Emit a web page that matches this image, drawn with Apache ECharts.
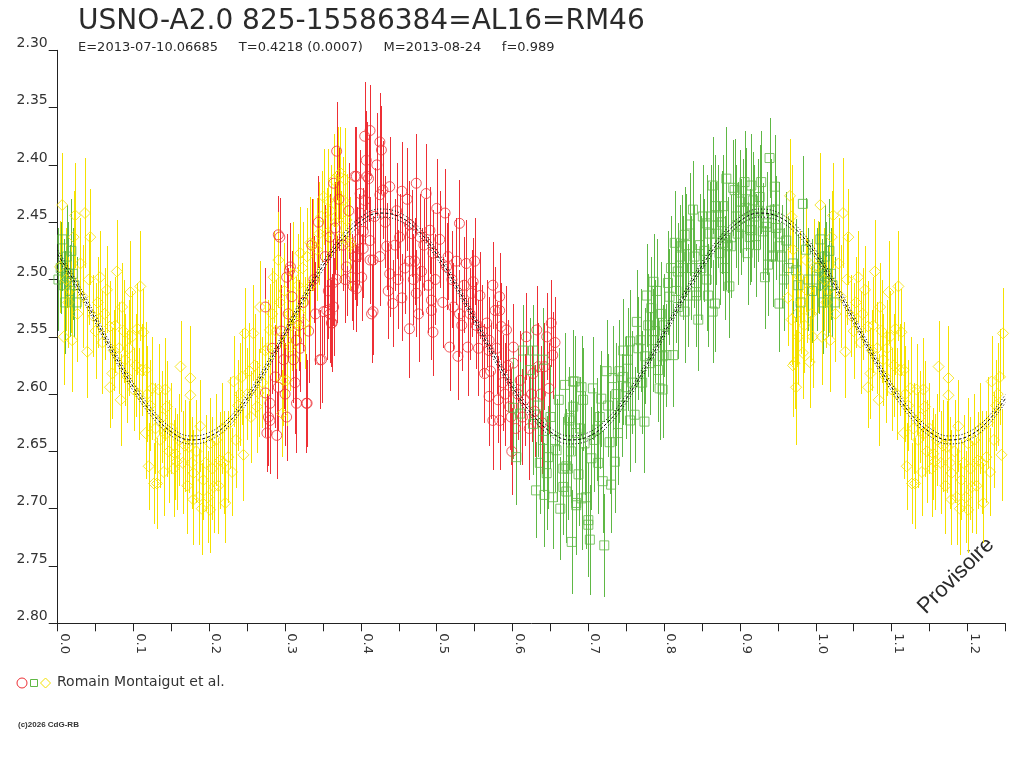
<!DOCTYPE html>
<html lang="fr">

<head>
	<meta charset="UTF-8">
	<title>USNO-A2.0 825-15586384</title>
	<script src="https://cdn.jsdelivr.net/npm/echarts@6.0.0/dist/echarts.min.js"></script>
	<style>
		html, body { margin: 0; padding: 0; background: #fff; }
		#chart { width: 1024px; height: 768px; }
	</style>
</head>

<body>
	<div id="chart"></div>
	<script>
		// observations : [phase, magnitude, erreur]
		var redObs = [
			[0.274, 2.524, 0.034], [0.274, 2.599, 0.038], [0.276, 2.634, 0.034], [0.278, 2.620, 0.043], [0.280, 2.608, 0.038],
			[0.280, 2.623, 0.047], [0.289, 2.636, 0.038], [0.291, 2.461, 0.034], [0.291, 2.594, 0.038], [0.293, 2.463, 0.034],
			[0.298, 2.570, 0.043], [0.302, 2.620, 0.038], [0.302, 2.498, 0.038], [0.306, 2.492, 0.034], [0.307, 2.489, 0.038],
			[0.311, 2.570, 0.038], [0.315, 2.553, 0.038], [0.315, 2.608, 0.043], [0.320, 2.560, 0.038], [0.328, 2.608, 0.043],
			[0.329, 2.608, 0.038], [0.338, 2.500, 0.038], [0.346, 2.570, 0.043], [0.348, 2.570, 0.038], [0.351, 2.528, 0.038],
			[0.355, 2.527, 0.043], [0.359, 2.463, 0.038], [0.359, 2.530, 0.043], [0.361, 2.538, 0.038], [0.362, 2.538, 0.043],
			[0.363, 2.503, 0.038], [0.364, 2.416, 0.038], [0.364, 2.524, 0.043], [0.368, 2.388, 0.043], [0.368, 2.500, 0.038],
			[0.379, 2.500, 0.038], [0.381, 2.489, 0.043], [0.388, 2.498, 0.038], [0.390, 2.506, 0.038], [0.392, 2.410, 0.043],
			[0.392, 2.480, 0.038], [0.394, 2.410, 0.043], [0.394, 2.508, 0.038], [0.395, 2.480, 0.043], [0.399, 2.425, 0.038],
			[0.399, 2.442, 0.043], [0.401, 2.498, 0.038], [0.403, 2.458, 0.038], [0.403, 2.473, 0.043], [0.405, 2.375, 0.047],
			[0.405, 2.431, 0.038], [0.407, 2.396, 0.043], [0.408, 2.410, 0.047], [0.410, 2.412, 0.038], [0.412, 2.370, 0.040],
			[0.412, 2.466, 0.038], [0.412, 2.483, 0.038], [0.414, 2.530, 0.043], [0.416, 2.483, 0.038], [0.416, 2.528, 0.038],
			[0.425, 2.380, 0.043], [0.425, 2.426, 0.038], [0.425, 2.480, 0.043], [0.427, 2.387, 0.038], [0.429, 2.422, 0.043],
			[0.434, 2.471, 0.038], [0.438, 2.419, 0.043], [0.438, 2.495, 0.038], [0.442, 2.521, 0.038], [0.449, 2.500, 0.043],
			[0.451, 2.463, 0.038], [0.454, 2.423, 0.043], [0.454, 2.516, 0.038], [0.464, 2.452, 0.038], [0.464, 2.484, 0.038],
			[0.464, 2.543, 0.043], [0.467, 2.460, 0.038], [0.471, 2.484, 0.038], [0.473, 2.416, 0.043], [0.473, 2.512, 0.038],
			[0.478, 2.463, 0.038], [0.480, 2.493, 0.038], [0.486, 2.425, 0.043], [0.491, 2.457, 0.038], [0.493, 2.518, 0.038],
			[0.493, 2.527, 0.043], [0.495, 2.477, 0.038], [0.495, 2.546, 0.038], [0.500, 2.438, 0.043], [0.511, 2.442, 0.038],
			[0.513, 2.489, 0.038], [0.515, 2.480, 0.038], [0.517, 2.559, 0.038], [0.522, 2.524, 0.038], [0.526, 2.484, 0.038],
			[0.528, 2.567, 0.038], [0.530, 2.451, 0.038], [0.530, 2.530, 0.038], [0.539, 2.486, 0.038], [0.541, 2.559, 0.043],
			[0.546, 2.512, 0.038], [0.548, 2.502, 0.038], [0.550, 2.484, 0.038], [0.552, 2.540, 0.038], [0.557, 2.514, 0.038],
			[0.563, 2.582, 0.043], [0.566, 2.538, 0.038], [0.569, 2.553, 0.038], [0.569, 2.562, 0.043], [0.569, 2.602, 0.043],
			[0.574, 2.505, 0.038], [0.574, 2.623, 0.043], [0.577, 2.527, 0.038], [0.581, 2.605, 0.038], [0.583, 2.515, 0.038],
			[0.583, 2.527, 0.043], [0.583, 2.623, 0.043], [0.585, 2.541, 0.038], [0.592, 2.544, 0.038], [0.596, 2.611, 0.038],
			[0.599, 2.650, 0.038], [0.601, 2.559, 0.038], [0.601, 2.573, 0.038], [0.610, 2.588, 0.043], [0.618, 2.550, 0.038],
			[0.627, 2.582, 0.043], [0.632, 2.544, 0.038], [0.634, 2.576, 0.038], [0.642, 2.576, 0.038], [0.645, 2.550, 0.038],
			[0.651, 2.538, 0.038], [0.653, 2.566, 0.038],
			[0.283, 2.560, 0.040], [0.287, 2.585, 0.045], [0.295, 2.545, 0.040], [0.300, 2.600, 0.045], [0.304, 2.530, 0.040],
			[0.309, 2.515, 0.040], [0.313, 2.590, 0.045], [0.318, 2.540, 0.040], [0.324, 2.520, 0.042], [0.331, 2.545, 0.045],
			[0.335, 2.470, 0.040], [0.340, 2.530, 0.045], [0.344, 2.450, 0.040], [0.353, 2.480, 0.045], [0.357, 2.510, 0.042],
			[0.366, 2.455, 0.040], [0.371, 2.430, 0.045], [0.376, 2.470, 0.040], [0.384, 2.440, 0.042], [0.397, 2.465, 0.040],
			[0.418, 2.445, 0.042], [0.421, 2.400, 0.045], [0.432, 2.450, 0.040], [0.436, 2.510, 0.042], [0.445, 2.470, 0.040],
			[0.447, 2.440, 0.042], [0.458, 2.490, 0.040], [0.461, 2.430, 0.045], [0.469, 2.500, 0.040], [0.476, 2.530, 0.042],
			[0.483, 2.470, 0.040], [0.489, 2.505, 0.042], [0.498, 2.500, 0.040], [0.504, 2.465, 0.042], [0.508, 2.520, 0.040],
			[0.520, 2.500, 0.042], [0.533, 2.540, 0.040], [0.536, 2.505, 0.042], [0.544, 2.530, 0.040], [0.555, 2.560, 0.042],
			[0.560, 2.545, 0.040], [0.571, 2.580, 0.042], [0.579, 2.560, 0.040], [0.587, 2.590, 0.042], [0.590, 2.600, 0.045],
			[0.594, 2.575, 0.040], [0.598, 2.620, 0.042], [0.604, 2.630, 0.045], [0.607, 2.600, 0.040], [0.613, 2.620, 0.042],
			[0.616, 2.605, 0.040], [0.622, 2.630, 0.045], [0.625, 2.600, 0.042], [0.629, 2.615, 0.040], [0.637, 2.600, 0.042],
			[0.639, 2.625, 0.045], [0.648, 2.595, 0.040], [0.656, 2.555, 0.040]
		]
		var greenObs = [
			[0.004, 2.490, 0.040], [0.006, 2.465, 0.045], [0.008, 2.505, 0.040], [0.012, 2.480, 0.045], [0.016, 2.510, 0.040],
			[0.018, 2.475, 0.045], [0.020, 2.495, 0.040], [0.025, 2.520, 0.040], [0.001, 2.500, 0.045], [0.010, 2.520, 0.045],
			[0.014, 2.495, 0.045], [0.022, 2.505, 0.045],
			[0.601, 2.612, 0.045], [0.605, 2.655, 0.042], [0.610, 2.617, 0.045], [0.614, 2.562, 0.040], [0.623, 2.579, 0.045],
			[0.627, 2.562, 0.040], [0.627, 2.626, 0.045], [0.631, 2.684, 0.042], [0.640, 2.570, 0.045], [0.640, 2.640, 0.045],
			[0.642, 2.688, 0.045], [0.645, 2.669, 0.050], [0.647, 2.655, 0.045], [0.658, 2.649, 0.045], [0.667, 2.665, 0.045],
			[0.667, 2.681, 0.042], [0.669, 2.592, 0.045], [0.671, 2.663, 0.050], [0.671, 2.685, 0.045], [0.673, 2.665, 0.045],
			[0.675, 2.621, 0.045], [0.675, 2.623, 0.040], [0.678, 2.729, 0.045], [0.680, 2.589, 0.045], [0.680, 2.611, 0.042],
			[0.682, 2.589, 0.040], [0.684, 2.634, 0.045], [0.684, 2.695, 0.045], [0.684, 2.697, 0.040], [0.691, 2.594, 0.045],
			[0.691, 2.691, 0.045], [0.693, 2.605, 0.045], [0.695, 2.643, 0.045], [0.700, 2.710, 0.050], [0.700, 2.714, 0.045],
			[0.702, 2.727, 0.048], [0.704, 2.656, 0.045], [0.706, 2.595, 0.045], [0.711, 2.631, 0.045], [0.717, 2.604, 0.042],
			[0.719, 2.676, 0.045], [0.721, 2.732, 0.045], [0.724, 2.580, 0.045], [0.728, 2.642, 0.045], [0.730, 2.679, 0.042],
			[0.732, 2.586, 0.045], [0.735, 2.659, 0.045], [0.739, 2.634, 0.045], [0.746, 2.562, 0.045], [0.746, 2.585, 0.042],
			[0.750, 2.594, 0.045], [0.755, 2.554, 0.045], [0.755, 2.623, 0.045], [0.761, 2.618, 0.042], [0.764, 2.537, 0.045],
			[0.769, 2.553, 0.045], [0.774, 2.624, 0.045], [0.775, 2.567, 0.042], [0.777, 2.514, 0.045], [0.781, 2.573, 0.045],
			[0.785, 2.553, 0.045], [0.786, 2.502, 0.042], [0.792, 2.579, 0.045], [0.794, 2.595, 0.045], [0.796, 2.530, 0.045],
			[0.798, 2.596, 0.042], [0.798, 2.567, 0.045], [0.803, 2.566, 0.045], [0.805, 2.503, 0.045], [0.807, 2.515, 0.042],
			[0.812, 2.566, 0.045], [0.814, 2.468, 0.045], [0.818, 2.493, 0.042], [0.818, 2.524, 0.045], [0.821, 2.480, 0.045],
			[0.823, 2.471, 0.045], [0.827, 2.461, 0.042], [0.827, 2.528, 0.045], [0.831, 2.514, 0.045], [0.834, 2.452, 0.045],
			[0.838, 2.439, 0.042], [0.840, 2.480, 0.045], [0.842, 2.514, 0.045], [0.842, 2.511, 0.042], [0.845, 2.535, 0.045],
			[0.851, 2.445, 0.045], [0.856, 2.451, 0.042], [0.856, 2.500, 0.045], [0.858, 2.514, 0.045], [0.860, 2.460, 0.045],
			[0.864, 2.418, 0.042], [0.864, 2.528, 0.045], [0.867, 2.436, 0.045], [0.867, 2.521, 0.042], [0.873, 2.477, 0.045],
			[0.878, 2.436, 0.045], [0.878, 2.468, 0.042], [0.882, 2.412, 0.045], [0.882, 2.464, 0.045], [0.884, 2.470, 0.042],
			[0.886, 2.506, 0.045], [0.888, 2.471, 0.045], [0.891, 2.420, 0.042], [0.893, 2.422, 0.045], [0.900, 2.432, 0.045],
			[0.902, 2.454, 0.042], [0.906, 2.415, 0.045], [0.910, 2.477, 0.045], [0.913, 2.463, 0.042], [0.915, 2.418, 0.045],
			[0.915, 2.457, 0.045], [0.917, 2.431, 0.042], [0.926, 2.428, 0.045], [0.928, 2.415, 0.045], [0.930, 2.458, 0.042],
			[0.933, 2.498, 0.045], [0.935, 2.451, 0.045], [0.935, 2.454, 0.042], [0.937, 2.487, 0.045], [0.939, 2.394, 0.035],
			[0.943, 2.479, 0.045], [0.943, 2.480, 0.042], [0.946, 2.419, 0.045], [0.946, 2.439, 0.045], [0.952, 2.521, 0.042],
			[0.952, 2.471, 0.045], [0.952, 2.460, 0.045], [0.961, 2.466, 0.042], [0.970, 2.486, 0.045], [0.974, 2.492, 0.045],
			[0.983, 2.434, 0.042], [0.987, 2.474, 0.045],
			[0.633, 2.610, 0.045], [0.636, 2.660, 0.045],
			[0.650, 2.620, 0.045], [0.653, 2.690, 0.045], [0.656, 2.640, 0.045], [0.661, 2.605, 0.045], [0.663, 2.700, 0.045],
			[0.677, 2.650, 0.045], [0.687, 2.670, 0.045], [0.689, 2.630, 0.045], [0.697, 2.690, 0.045], [0.708, 2.640, 0.045],
			[0.713, 2.660, 0.045], [0.715, 2.620, 0.045], [0.726, 2.610, 0.045], [0.737, 2.600, 0.045], [0.741, 2.580, 0.045],
			[0.744, 2.610, 0.045], [0.752, 2.570, 0.045], [0.758, 2.590, 0.045], [0.766, 2.560, 0.045], [0.771, 2.590, 0.045],
			[0.779, 2.540, 0.045], [0.783, 2.525, 0.045], [0.788, 2.545, 0.045], [0.790, 2.510, 0.045], [0.800, 2.540, 0.045],
			[0.809, 2.490, 0.045], [0.816, 2.510, 0.045], [0.825, 2.490, 0.045], [0.829, 2.470, 0.045], [0.836, 2.490, 0.045],
			[0.847, 2.470, 0.045], [0.849, 2.490, 0.045], [0.853, 2.475, 0.045], [0.862, 2.445, 0.045], [0.869, 2.460, 0.045],
			[0.871, 2.445, 0.045], [0.876, 2.450, 0.045], [0.880, 2.490, 0.045], [0.895, 2.445, 0.045], [0.897, 2.460, 0.045],
			[0.904, 2.440, 0.045], [0.908, 2.430, 0.045], [0.919, 2.445, 0.045], [0.921, 2.470, 0.045], [0.924, 2.440, 0.045],
			[0.941, 2.440, 0.045], [0.948, 2.455, 0.045], [0.955, 2.480, 0.045], [0.958, 2.500, 0.045], [0.964, 2.490, 0.045],
			[0.977, 2.505, 0.045], [0.980, 2.520, 0.045], [0.990, 2.500, 0.045], [0.995, 2.510, 0.045]
		]
		var yellowObs = [
			[0.003, 2.489, 0.040], [0.006, 2.435, 0.045], [0.008, 2.550, 0.042], [0.017, 2.509, 0.038], [0.019, 2.553, 0.045],
			[0.021, 2.463, 0.040], [0.023, 2.444, 0.046], [0.030, 2.486, 0.040], [0.036, 2.442, 0.048], [0.039, 2.563, 0.040],
			[0.043, 2.463, 0.042], [0.047, 2.532, 0.036], [0.056, 2.498, 0.040], [0.065, 2.509, 0.038], [0.069, 2.541, 0.040],
			[0.069, 2.594, 0.036], [0.072, 2.582, 0.040], [0.074, 2.562, 0.035], [0.078, 2.493, 0.045], [0.083, 2.605, 0.040],
			[0.085, 2.524, 0.038], [0.089, 2.570, 0.040], [0.096, 2.511, 0.045], [0.100, 2.596, 0.036], [0.105, 2.543, 0.040],
			[0.109, 2.506, 0.048], [0.111, 2.579, 0.040], [0.113, 2.546, 0.038], [0.116, 2.579, 0.042], [0.116, 2.634, 0.040],
			[0.120, 2.663, 0.038], [0.127, 2.678, 0.035], [0.131, 2.678, 0.040], [0.133, 2.596, 0.040], [0.140, 2.668, 0.038],
			[0.142, 2.596, 0.045], [0.144, 2.611, 0.040], [0.144, 2.634, 0.038], [0.155, 2.652, 0.040], [0.157, 2.659, 0.042],
			[0.162, 2.576, 0.040], [0.173, 2.646, 0.040], [0.175, 2.586, 0.045], [0.175, 2.601, 0.040], [0.179, 2.669, 0.038],
			[0.179, 2.692, 0.040], [0.186, 2.690, 0.042], [0.188, 2.628, 0.040], [0.192, 2.675, 0.035], [0.201, 2.643, 0.040],
			[0.201, 2.701, 0.038], [0.206, 2.681, 0.040], [0.214, 2.658, 0.042], [0.221, 2.695, 0.035], [0.225, 2.655, 0.040],
			[0.230, 2.668, 0.038], [0.232, 2.589, 0.040], [0.243, 2.585, 0.042], [0.245, 2.653, 0.040], [0.247, 2.547, 0.040],
			[0.258, 2.547, 0.042], [0.263, 2.611, 0.040], [0.265, 2.599, 0.038], [0.267, 2.524, 0.040], [0.274, 2.562, 0.045],
			[0.280, 2.544, 0.040], [0.285, 2.498, 0.040], [0.291, 2.483, 0.042], [0.296, 2.617, 0.038], [0.297, 2.588, 0.040],
			[0.302, 2.588, 0.040], [0.302, 2.553, 0.042], [0.306, 2.530, 0.040], [0.307, 2.559, 0.038], [0.311, 2.495, 0.045],
			[0.315, 2.538, 0.040], [0.320, 2.530, 0.042], [0.320, 2.477, 0.040], [0.326, 2.538, 0.040], [0.333, 2.506, 0.042],
			[0.333, 2.468, 0.040], [0.342, 2.474, 0.045], [0.348, 2.445, 0.040], [0.351, 2.428, 0.042], [0.355, 2.460, 0.040],
			[0.357, 2.431, 0.045], [0.364, 2.413, 0.040], [0.370, 2.409, 0.042], [0.373, 2.407, 0.040], [0.374, 2.463, 0.040],
			[0.377, 2.431, 0.038], [0.379, 2.413, 0.045], [0.381, 2.448, 0.040], [0.385, 2.471, 0.038], [0.386, 2.468, 0.040],
			[0.011, 2.500, 0.045], [0.014, 2.520, 0.040], [0.026, 2.530, 0.042], [0.033, 2.515, 0.045], [0.041, 2.500, 0.040],
			[0.050, 2.545, 0.042], [0.053, 2.520, 0.040], [0.059, 2.555, 0.045], [0.062, 2.530, 0.040], [0.076, 2.540, 0.042],
			[0.081, 2.560, 0.040], [0.087, 2.545, 0.045], [0.092, 2.585, 0.040], [0.094, 2.560, 0.042], [0.098, 2.550, 0.040],
			[0.103, 2.575, 0.045], [0.107, 2.600, 0.040], [0.118, 2.600, 0.042], [0.122, 2.610, 0.040], [0.125, 2.595, 0.045],
			[0.129, 2.630, 0.040], [0.135, 2.640, 0.042], [0.138, 2.620, 0.040], [0.147, 2.650, 0.045], [0.150, 2.630, 0.040],
			[0.153, 2.665, 0.042], [0.160, 2.640, 0.040], [0.165, 2.660, 0.045], [0.168, 2.645, 0.040], [0.171, 2.680, 0.042],
			[0.177, 2.660, 0.040], [0.183, 2.650, 0.045], [0.190, 2.700, 0.040], [0.195, 2.660, 0.042], [0.198, 2.690, 0.040],
			[0.204, 2.665, 0.045], [0.209, 2.640, 0.040], [0.212, 2.680, 0.042], [0.217, 2.630, 0.040], [0.219, 2.660, 0.045],
			[0.227, 2.625, 0.040], [0.235, 2.640, 0.042], [0.238, 2.610, 0.040], [0.240, 2.600, 0.045], [0.250, 2.600, 0.040],
			[0.253, 2.580, 0.042], [0.255, 2.620, 0.040], [0.260, 2.575, 0.045], [0.270, 2.590, 0.040], [0.277, 2.560, 0.042],
			[0.283, 2.530, 0.040], [0.288, 2.545, 0.045], [0.293, 2.520, 0.040], [0.299, 2.510, 0.042], [0.309, 2.540, 0.040],
			[0.317, 2.505, 0.045], [0.323, 2.490, 0.040], [0.329, 2.480, 0.042], [0.337, 2.470, 0.040], [0.345, 2.460, 0.045],
			[0.360, 2.440, 0.040], [0.367, 2.450, 0.042],
			[0.963, 2.516, 0.042], [0.966, 2.427, 0.050], [0.968, 2.445, 0.045], [0.968, 2.535, 0.040], [0.970, 2.474, 0.045],
			[0.970, 2.575, 0.045], [0.972, 2.573, 0.040], [0.974, 2.594, 0.050], [0.979, 2.498, 0.040], [0.983, 2.564, 0.040],
			[0.987, 2.483, 0.045], [0.992, 2.572, 0.040], [0.998, 2.489, 0.042], [0.975, 2.530, 0.045], [0.977, 2.550, 0.042],
			[0.981, 2.520, 0.045], [0.985, 2.540, 0.042], [0.989, 2.510, 0.045], [0.994, 2.530, 0.042], [0.996, 2.550, 0.045]
		]
		// courbe ajustée, lue tous les 0.025 en phase (0.00 -> 1.25)
		var curveStep = 0.025
		var curveMag = [
			2.478, 2.505, 2.535, 2.566, 2.594, 2.617, 2.633, 2.640, 2.637, 2.625,
			2.604, 2.577, 2.547, 2.516, 2.488, 2.465, 2.449, 2.442, 2.445, 2.457,
			2.478, 2.505, 2.535, 2.566, 2.594, 2.617, 2.633, 2.640, 2.637, 2.625,
			2.604, 2.577, 2.547, 2.516, 2.488, 2.465, 2.449, 2.442, 2.445, 2.457,
			2.478, 2.505, 2.535, 2.566, 2.594, 2.617, 2.633, 2.640, 2.637, 2.625,
			2.604
		]
		var curveSigma = 0.0035
		var yTicks = [2.30, 2.80, 0.05]
		var xTicks = [0, 1.25, 0.05]

		var FONT = "'DejaVu Sans', Verdana, sans-serif"
		var FONT2 = "'Liberation Sans', Arial, sans-serif"
		var RED = '#ee2f35', GREEN = '#5fb845', YELLOW = '#f5e100'

		// phases 0 - 0.25 repetees a 1.0 - 1.25
		function wrap(list) {
			var out = list.slice()
			list.forEach(function (d) {
				if (d[0] < 0.25) out.push([d[0] + 1, d[1], d[2]])
			})
			return out
		}

		function curve(offset) {
			return curveMag.map(function (m, i) {
				return [+(i * curveStep).toFixed(3), +(m + offset).toFixed(4)]
			})
		}

		function errSeries(data, color) {
			return {
				type: 'custom',
				data: data,
				encode: { x: 0, y: 1 },
				silent: true,
				renderItem: function (params, api) {
					var a = api.coord([api.value(0), api.value(1) - api.value(2)])
					var b = api.coord([api.value(0), api.value(1) + api.value(2)])
					var x = Math.round(a[0]) + 0.5
					return {
						type: 'line',
						shape: { x1: x, y1: Math.round(a[1]), x2: x, y2: Math.round(b[1]) },
						style: { stroke: color, lineWidth: 1 }
					}
				}
			}
		}

		function markSeries(data, color, symbol, size) {
			return {
				type: 'scatter',
				data: data,
				symbol: symbol,
				symbolSize: size,
				silent: true,
				itemStyle: { color: 'rgba(0,0,0,0)', borderColor: color, borderWidth: 1 }
			}
		}

		function lineSeries(data, dash) {
			return {
				type: 'line',
				data: data,
				smooth: 0.4,
				symbol: 'none',
				silent: true,
				lineStyle: { color: '#000', width: 1, type: dash }
			}
		}

		var red = wrap(redObs), green = wrap(greenObs), yellow = wrap(yellowObs)

		var myChart = echarts.init(document.getElementById('chart'))
		var option = {
			animation: false,
			backgroundColor: '#fff',
			textStyle: { fontFamily: FONT },
			title: {
				text: 'USNO-A2.0 825-15586384=AL16=RM46',
				subtext: 'E=2013-07-10.06685     T=0.4218 (0.0007)     M=2013-08-24     f=0.989',
				left: 73,
				top: 3,
				itemGap: 5,
				textStyle: { fontFamily: FONT, fontSize: 28, fontWeight: 'normal', color: '#2a2a2a' },
				subtextStyle: { fontFamily: FONT, fontSize: 13, color: '#2a2a2a' }
			},
			grid: { left: 57.7, right: 18.7, top: 50.3, bottom: 144.7 },
			xAxis: {
				type: 'value',
				min: xTicks[0],
				max: xTicks[1],
				interval: xTicks[2],
				splitLine: { show: false },
				axisLine: { onZero: false, lineStyle: { color: '#222', width: 1 } },
				axisTick: { length: 8, lineStyle: { color: '#222' } },
				axisLabel: {
					rotate: -90,
					margin: 10,
					color: '#333',
					fontSize: 13,
					fontFamily: FONT,
					verticalAlign: 'bottom',
					formatter: function (v) {
						return Math.round(v * 100) % 10 === 0 ? v.toFixed(1) : ''
					}
				}
			},
			yAxis: {
				type: 'value',
				inverse: true,
				min: yTicks[0],
				max: yTicks[1],
				interval: yTicks[2],
				splitLine: { show: false },
				axisLine: { onZero: false, lineStyle: { color: '#222', width: 1 } },
				axisTick: { length: 9, lineStyle: { color: '#222' } },
				axisLabel: {
					margin: 10,
					color: '#333',
					fontSize: 14,
					fontFamily: FONT,
					verticalAlign: 'bottom',
					formatter: function (v) { return v.toFixed(2) }
				}
			},
			series: [
				errSeries(red, RED),
				markSeries(red, RED, 'circle', 10),
				errSeries(green, GREEN),
				markSeries(green, GREEN, 'rect', 9),
				errSeries(yellow, YELLOW),
				markSeries(yellow, YELLOW, 'diamond', 11),
				lineSeries(curve(-curveSigma), [1, 2]),
				lineSeries(curve(0), [3, 2]),
				lineSeries(curve(curveSigma), [1, 2])
			],
			graphic: [
				{ type: 'circle', shape: { cx: 22, cy: 683, r: 5 }, style: { fill: 'none', stroke: RED, lineWidth: 1 } },
				{ type: 'rect', shape: { x: 30.5, y: 679.5, width: 7, height: 7 }, style: { fill: 'none', stroke: GREEN, lineWidth: 1 } },
				{ type: 'polygon', shape: { points: [[45.5, 678], [50.5, 683], [45.5, 688], [40.5, 683]] }, style: { fill: 'none', stroke: YELLOW, lineWidth: 1 } },
				{ type: 'text', left: 57, top: 675, style: { text: 'Romain Montaigut et al.', font: '14px ' + FONT, fill: '#333' } },
				{ type: 'text', left: 18, top: 721, style: { text: '(c)2026 CdG-RB', font: 'bold 8px ' + FONT2, fill: '#333' } },
				{
					type: 'text', x: 956, y: 576, rotation: Math.PI / 4,
					style: { text: 'Provisoire', font: '22px ' + FONT2, fill: '#2a2a2a', align: 'center', verticalAlign: 'middle' }
				}
			]
		}
		myChart.setOption(option)
	</script>
</body>

</html>
